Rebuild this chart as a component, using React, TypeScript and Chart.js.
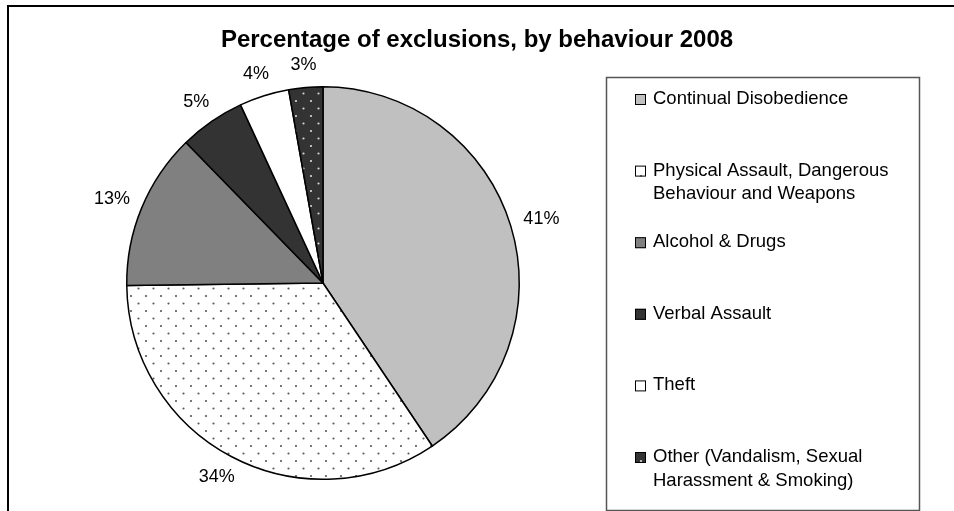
import React, { useEffect, useRef } from "react";
import { Chart, registerables } from "chart.js";

Chart.register(...registerables);

const chartTitle = "Percentage of exclusions, by behaviour 2008";
const categories = [
  "Continual Disobedience",
  "Physical Assault, Dangerous Behaviour and Weapons",
  "Alcohol & Drugs",
  "Verbal Assault",
  "Theft",
  "Other (Vandalism, Sexual Harassment & Smoking)",
];
const shares = [40.6, 34.2, 12.9, 5.4, 4.1, 2.8];

const FONT = "'Liberation Sans', Arial, sans-serif";

function dotPattern(bg: string, dot: string): CanvasPattern | string {
  const c = document.createElement("canvas");
  c.width = 15;
  c.height = 15;
  const x = c.getContext("2d");
  if (!x) return bg;
  x.fillStyle = bg;
  x.fillRect(0, 0, 15, 15);
  x.fillStyle = dot;
  x.beginPath();
  x.arc(3.5, 3.5, 1.1, 0, Math.PI * 2);
  x.arc(11, 11, 1.1, 0, Math.PI * 2);
  x.fill();
  const ctx = document.createElement("canvas").getContext("2d");
  const p = ctx ? ctx.createPattern(c, "repeat") : null;
  return p || bg;
}

function wrap(ctx: CanvasRenderingContext2D, text: string, maxW: number): string[] {
  const words = text.split(" ");
  const lines: string[] = [];
  let cur = "";
  for (const w of words) {
    const t = cur ? cur + " " + w : w;
    if (ctx.measureText(t).width > maxW && cur) {
      lines.push(cur);
      cur = w;
    } else cur = t;
  }
  if (cur) lines.push(cur);
  return lines;
}

const decorPlugin = {
  id: "decor",
  beforeDraw(chart: any) {
    const ctx = chart.ctx as CanvasRenderingContext2D;
    ctx.save();
    ctx.fillStyle = "#ffffff";
    ctx.fillRect(0, 0, chart.width, chart.height);
    ctx.strokeStyle = "#000000";
    ctx.lineWidth = 2;
    ctx.beginPath();
    ctx.moveTo(8, chart.height + 5);
    ctx.lineTo(8, 6);
    ctx.lineTo(chart.width + 5, 6);
    ctx.stroke();
    ctx.fillStyle = "#000000";
    ctx.font = `bold 24px ${FONT}`;
    ctx.textAlign = "center";
    ctx.textBaseline = "middle";
    ctx.fillText(chartTitle, 477, 40);
    ctx.restore();
  },
  afterDraw(chart: any) {
    const ctx = chart.ctx as CanvasRenderingContext2D;
    const meta = chart.getDatasetMeta(0);
    const data = chart.data.datasets[0].data as number[];
    const total = data.reduce((a, b) => a + b, 0);
    ctx.save();
    ctx.font = `18px ${FONT}`;
    ctx.fillStyle = "#000000";
    ctx.textAlign = "center";
    ctx.textBaseline = "middle";
    meta.data.forEach((arc: any, i: number) => {
      const { x, y, startAngle, endAngle, outerRadius } = arc.getProps(
        ["x", "y", "startAngle", "endAngle", "outerRadius"],
        true
      );
      const txt = Math.round((data[i] / total) * 100) + "%";
      const mid = (startAngle + endAngle) / 2;
      const cx = Math.cos(mid);
      const sy = Math.sin(mid);
      const hw = ctx.measureText(txt).width / 2;
      const hh = 9;
      const d = outerRadius + 14;
      const lx = x + cx * d + cx * hw;
      const ly = y + sy * d + sy * hh;
      ctx.fillText(txt, lx, ly);
    });
    const bx = 606.5, by = 77.5, bw = 313, bh = 433;
    ctx.strokeStyle = "#555555";
    ctx.lineWidth = 1.5;
    ctx.strokeRect(bx, by, bw, bh);
    const colors = chart.data.datasets[0].backgroundColor as any[];
    const labels = chart.data.labels as string[];
    ctx.textAlign = "left";
    ctx.font = `18.5px ${FONT}`;
    labels.forEach((lab, i) => {
      const y0 = 99 + i * 71.6;
      ctx.fillStyle = colors[i];
      ctx.fillRect(635, y0 - 5, 11, 11);
      ctx.strokeStyle = "#000000";
      ctx.lineWidth = 1;
      ctx.strokeRect(635.5, y0 - 4.5, 10, 10);
      ctx.fillStyle = "#000000";
      const lines = wrap(ctx, lab, 258);
      lines.forEach((ln, j) => ctx.fillText(ln, 653, y0 + j * 23.5));
    });
    ctx.restore();
  },
};

export default function App() {
  const ref = useRef<HTMLCanvasElement | null>(null);
  useEffect(() => {
    document.body.style.margin = "0";
    document.body.style.overflow = "hidden";
    if (!ref.current) return;
    const bg = [
      "#c0c0c0",
      dotPattern("#ffffff", "#5a5a5a"),
      "#808080",
      "#333333",
      "#ffffff",
      dotPattern("#333333", "#d8d8d8"),
    ];
    const chart = new Chart(ref.current, {
      type: "pie",
      data: {
        labels: categories,
        datasets: [
          {
            data: shares,
            backgroundColor: bg as any,
            borderColor: "#000000",
            borderWidth: 1.5,
          },
        ],
      },
      options: {
        responsive: false,
        animation: false,
        layout: { padding: { left: 126, top: 86, right: 434, bottom: 31 } },
        plugins: {
          legend: { display: false },
          title: { display: false },
          tooltip: { enabled: false },
        },
      },
      plugins: [decorPlugin],
    });
    return () => chart.destroy();
  }, []);
  return (
    <canvas
      ref={ref}
      width={954}
      height={511}
      style={{ display: "block", width: 954, height: 511 }}
    />
  );
}
